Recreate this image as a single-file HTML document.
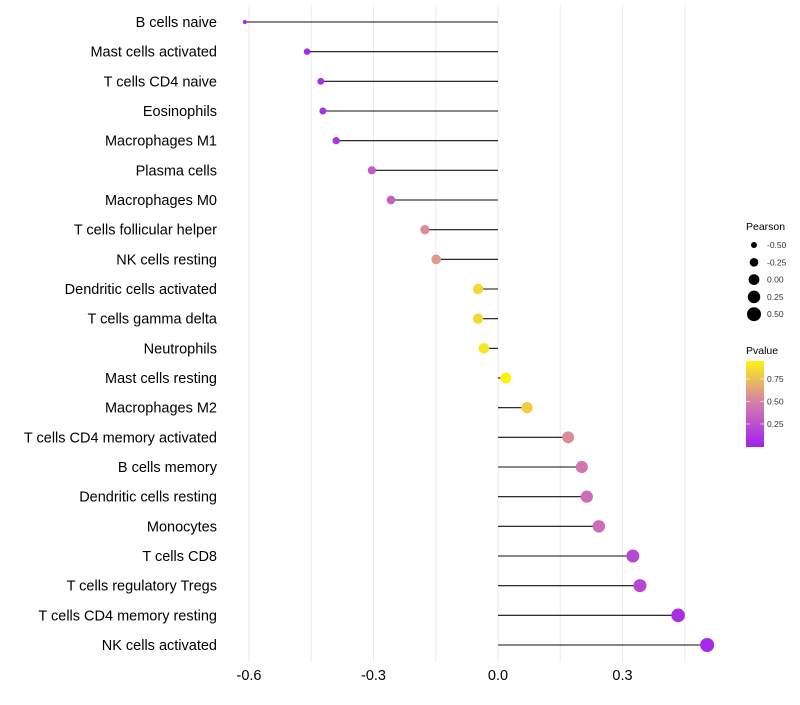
<!DOCTYPE html>
<html><head><meta charset="utf-8"><style>
body{margin:0;background:#fff;font-family:"Liberation Sans",sans-serif}
</style></head><body>
<svg id="chart" width="800" height="700"></svg>
<script>
const categories=["B cells naive","Mast cells activated","T cells CD4 naive","Eosinophils","Macrophages M1","Plasma cells","Macrophages M0","T cells follicular helper","NK cells resting","Dendritic cells activated","T cells gamma delta","Neutrophils","Mast cells resting","Macrophages M2","T cells CD4 memory activated","B cells memory","Dendritic cells resting","Monocytes","T cells CD8","T cells regulatory  Tregs ","T cells CD4 memory resting","NK cells activated"];
const pearson=[-0.61,-0.46,-0.427,-0.422,-0.39,-0.304,-0.258,-0.176,-0.149,-0.048,-0.048,-0.034,0.019,0.07,0.169,0.202,0.214,0.243,0.325,0.342,0.434,0.504];
const pvalue=[0.05,0.05,0.08,0.08,0.1,0.3,0.35,0.55,0.6,0.85,0.85,0.9,0.95,0.8,0.55,0.45,0.4,0.4,0.2,0.2,0.08,0.05];
const xTicks=[-0.6,-0.3,0.0,0.3];
const xTickLabels=["-0.6","-0.3","0.0","0.3"];
const sizeLegendValues=[-0.5,-0.25,0,0.25,0.5];
const sizeLegendLabels=["-0.50","-0.25","0.00","0.25","0.50"];
const colorLegendValues=[0.25,0.5,0.75];
const colorLegendLabels=["0.25","0.50","0.75"];

const NS="http://www.w3.org/2000/svg";
const svg=document.getElementById('chart');
function mk(t,a,p){const e=document.createElementNS(NS,t);for(const k in a)e.setAttribute(k,a[k]);(p||svg).appendChild(e);return e;}
const x=v=>498+v*415;
const y=i=>22+i*(623/21);
const r=v=>Math.sqrt(Math.max(29+40*v,2));
function lerp(a,b,t){return a.map((c,i)=>Math.round(c+(b[i]-c)*t));}
const stops=[[0,[160,32,240]],[0.5,[214,128,170]],[1,[255,255,0]]];
function col(p){p=Math.max(0,Math.min(1,p));let s=p<0.5?0:1;const a=stops[s],b=stops[s+1];const c=lerp(a[1],b[1],(p-a[0])/(b[0]-a[0]));return `rgb(${c[0]},${c[1]},${c[2]})`;}

[-0.6,-0.45,-0.3,-0.15,0,0.15,0.3,0.45].forEach(v=>{
 const g=mk('line',{x1:x(v),x2:x(v),y1:5,y2:662,stroke:'#ebebeb','stroke-width':1});
 
 
});
categories.forEach((c,i)=>{
 const t=mk('text',{x:217,y:y(i)+5,'text-anchor':'end','font-size':14.5,fill:'#000'});
 t.textContent=c;
 
 
 const l=mk('line',{x1:x(0),x2:x(pearson[i]),y1:y(i),y2:y(i),stroke:'#111','stroke-width':1.1});
 
 
 const d=mk('circle',{cx:x(pearson[i]),cy:y(i),r:r(pearson[i]),fill:col(pvalue[i])});
 
 
});
xTicks.forEach((v,i)=>{
 const t=mk('text',{x:x(v),y:680,'text-anchor':'middle','font-size':14.5,fill:'#000'});
 t.textContent=xTickLabels[i];
 
 
});
const st=mk('text',{x:746,y:230,'font-size':10.5,fill:'#000'});st.textContent='Pearson';


sizeLegendValues.forEach((v,i)=>{
 const yy=245+i*17.3;
 const c=mk('circle',{cx:754,cy:yy,r:r(v),fill:'#000'});
 
 
 const t=mk('text',{x:767,y:yy+3,'font-size':8.5,fill:'#333'});t.textContent=sizeLegendLabels[i];
 
 
});
const ct=mk('text',{x:746,y:354,'font-size':10.5,fill:'#000'});ct.textContent='Pvalue';


const defs=mk('defs',{});
const lg=mk('linearGradient',{id:'pg',x1:0,y1:1,x2:0,y2:0},defs);
[0,0.25,0.5,0.75,1].forEach(s=>mk('stop',{offset:s,'stop-color':col(s*0.95)},lg));
const bar=mk('rect',{x:746,y:361,width:18,height:86,fill:'url(#pg)'});


const cy=p=>446.5-p*90;
colorLegendValues.forEach((v,i)=>{
 mk('line',{x1:746,x2:750,y1:cy(v),y2:cy(v),stroke:'#fff','stroke-width':0.6});
 mk('line',{x1:760,x2:764,y1:cy(v),y2:cy(v),stroke:'#fff','stroke-width':0.6});
 const t=mk('text',{x:767,y:cy(v)+3,'font-size':8.5,fill:'#333'});t.textContent=colorLegendLabels[i];
 
 
});
</script>
</body></html>
